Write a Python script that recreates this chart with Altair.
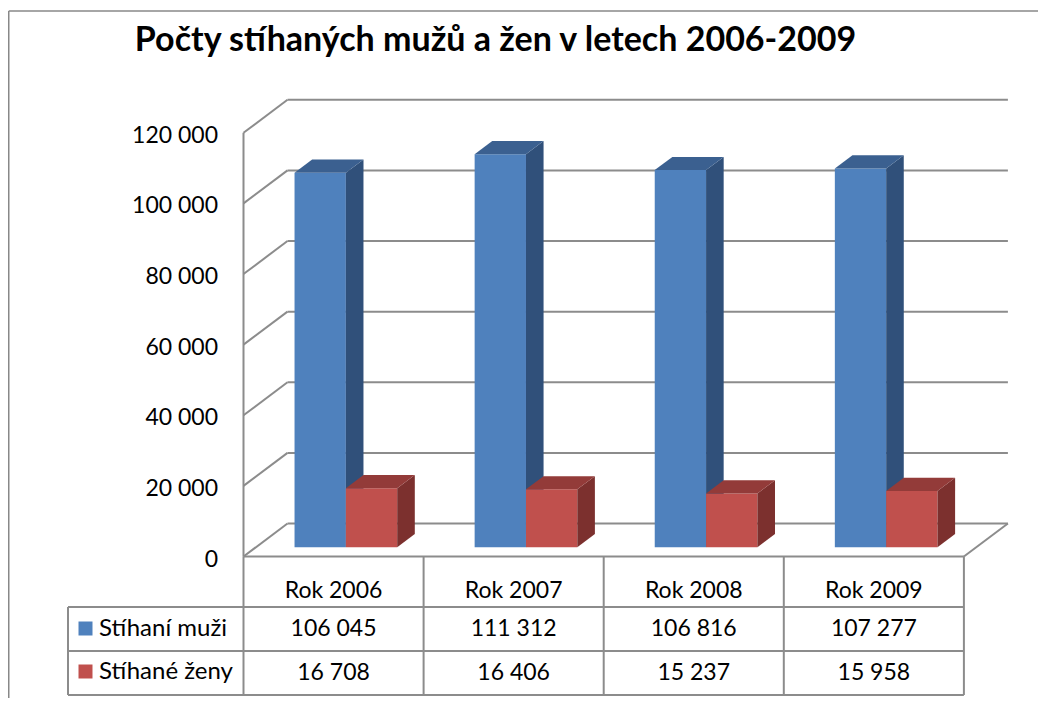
import altair as alt
import pandas as pd

# ---------------- data ----------------
years = ["Rok 2006", "Rok 2007", "Rok 2008", "Rok 2009"]
muzi = [106045, 111312, 106816, 107277]
zeny = [16708, 16406, 15237, 15958]
series_names = ["Stíhaní muži", "Stíhané ženy"]
y_ticks = [0, 20000, 40000, 60000, 80000, 100000, 120000]
title_text = "Počty stíhaných mužů a žen v letech 2006-2009"

# ---------------- layout constants ----------------
W, H = 1030, 690            # view size (page origin at 8,8)
X0_PAGE, Y0_PAGE = 243.5, 556.5   # front-left floor corner (page px)
CAT_PX = 180.1              # px per category
PX_PER_VAL = 0.003531       # px per value unit
DX_PX, DY_PX = 44.0, 33.0   # 3D depth offset in px

def u_of(page_x):
    return (page_x - X0_PAGE) / CAT_PX

def v_of(page_y):
    return (Y0_PAGE - page_y) / PX_PER_VAL

DX = DX_PX / CAT_PX
DY = DY_PX / PX_PER_VAL
x_dom = [u_of(8), u_of(8 + W)]
y_dom = [v_of(8 + H), v_of(8)]
xs = alt.Scale(domain=x_dom, nice=False, zero=False)
ys = alt.Scale(domain=y_dom, nice=False, zero=False)

def vy(page_y):  # view pixel y from page y
    return page_y - 8

GRID = "#8C8C8C"
FONT = "Lato"
FS = 23
n = len(years)
ymax = y_ticks[-1]

# ---------------- grid / walls ----------------
back = pd.DataFrame({"x": [DX] * len(y_ticks), "x2": [n + DX] * len(y_ticks),
                     "y": [t + DY for t in y_ticks]})
back_rules = alt.Chart(back).mark_rule(color=GRID, strokeWidth=2).encode(
    x=alt.X("x:Q", scale=xs, axis=None), x2="x2:Q",
    y=alt.Y("y:Q", scale=ys, axis=None))

diag = pd.DataFrame({"x": [0.0] * len(y_ticks), "x2": [DX] * len(y_ticks),
                     "y": y_ticks, "y2": [t + DY for t in y_ticks]})
diag_rules = alt.Chart(diag).mark_rule(color=GRID, strokeWidth=2).encode(
    x=alt.X("x:Q", scale=xs, axis=None), x2="x2:Q",
    y=alt.Y("y:Q", scale=ys, axis=None), y2="y2:Q")

floor_r = pd.DataFrame({"x": [float(n)], "x2": [n + DX], "y": [0.0], "y2": [DY]})
floor_rule = alt.Chart(floor_r).mark_rule(color=GRID, strokeWidth=2).encode(
    x=alt.X("x:Q", scale=xs, axis=None), x2="x2:Q",
    y=alt.Y("y:Q", scale=ys, axis=None), y2="y2:Q")

axis_v = pd.DataFrame({"x": [0.0], "y": [0.0], "y2": [float(ymax)]})
axis_rule = alt.Chart(axis_v).mark_rule(color=GRID, strokeWidth=2).encode(
    x=alt.X("x:Q", scale=xs, axis=None),
    y=alt.Y("y:Q", scale=ys, axis=None), y2="y2:Q")

tick_df = pd.DataFrame({"x": [u_of(218)] * len(y_ticks), "y": y_ticks,
                        "label": [f"{t:,}".replace(",", " ") for t in y_ticks]})
tick_text = alt.Chart(tick_df).mark_text(align="right", baseline="middle", dy=3,
                                         font=FONT, fontSize=FS, color="black").encode(
    x=alt.X("x:Q", scale=xs, axis=None), y=alt.Y("y:Q", scale=ys, axis=None),
    text="label:N")

# ---------------- 3D bars ----------------
ZF, DZ = 0.28, 0.40
BW = 0.285
START = 0.215
colors = [
    {"front": "#4F81BD", "side": "#30507A", "top": "#3B6090"},
    {"front": "#C0504D", "side": "#7C302E", "top": "#933B39"},
]

bar_layers = []
for s, vals in enumerate([muzi, zeny]):
    fr, sd, tp = [], [], []
    for i, val in enumerate(vals):
        xl = i + START + s * BW + ZF * DX
        xr = xl + BW
        b = ZF * DY
        t = val + ZF * DY
        fr.append({"x": xl, "x2": xr, "y": b, "y2": t})
        key = f"{s}-{i}"
        sd.append({"k": key, "x": xr, "y": b, "y2": t})
        sd.append({"k": key, "x": xr + DZ * DX, "y": b + DZ * DY, "y2": t + DZ * DY})
        tp.append({"k": key, "y": t, "x": xl, "x2": xr})
        tp.append({"k": key, "y": t + DZ * DY, "x": xl + DZ * DX, "x2": xr + DZ * DX})
    front = alt.Chart(pd.DataFrame(fr)).mark_rect(color=colors[s]["front"]).encode(
        x=alt.X("x:Q", scale=xs, axis=None), x2="x2:Q",
        y=alt.Y("y:Q", scale=ys, axis=None), y2="y2:Q")
    side = alt.Chart(pd.DataFrame(sd)).mark_area(color=colors[s]["side"], orient="vertical",
                                                 opacity=1).encode(
        x=alt.X("x:Q", scale=xs, axis=None),
        y=alt.Y("y:Q", scale=ys, axis=None), y2="y2:Q", detail="k:N")
    top = alt.Chart(pd.DataFrame(tp)).mark_area(color=colors[s]["top"], orient="horizontal",
                                                opacity=1).encode(
        y=alt.Y("y:Q", scale=ys, axis=None),
        x=alt.X("x:Q", scale=xs, axis=None), x2="x2:Q", detail="k:N")
    bar_layers += [front, side, top]

# ---------------- data table ----------------
ROW_TOP, ROW1, ROW2, ROW3 = 556.5, 607, 651, 695
LEFT_U = u_of(68)

vlines = pd.DataFrame({"x": list(range(n + 1))})
table_v = alt.Chart(vlines).mark_rule(color=GRID, strokeWidth=2).encode(
    x=alt.X("x:Q", scale=xs, axis=None),
    y=alt.value(vy(ROW_TOP)), y2=alt.value(vy(ROW3)))
left_v = alt.Chart(pd.DataFrame({"x": [LEFT_U]})).mark_rule(color=GRID, strokeWidth=2).encode(
    x=alt.X("x:Q", scale=xs, axis=None),
    y=alt.value(vy(ROW1)), y2=alt.value(vy(ROW3)))

h_top = alt.Chart(pd.DataFrame({"x": [0.0], "x2": [float(n)]})).mark_rule(
    color=GRID, strokeWidth=2).encode(
    x=alt.X("x:Q", scale=xs, axis=None), x2="x2:Q", y=alt.value(vy(ROW_TOP)))
h_rows = []
for py in (ROW1, ROW2, ROW3):
    h_rows.append(alt.Chart(pd.DataFrame({"x": [LEFT_U], "x2": [float(n)]})).mark_rule(
        color=GRID, strokeWidth=2).encode(
        x=alt.X("x:Q", scale=xs, axis=None), x2="x2:Q", y=alt.value(vy(py))))

hdr = pd.DataFrame({"x": [i + 0.5 for i in range(n)], "label": years})
hdr_text = alt.Chart(hdr).mark_text(font=FONT, fontSize=FS, color="black",
                                    baseline="middle").encode(
    x=alt.X("x:Q", scale=xs, axis=None), y=alt.value(vy(591)), text="label:N")

row_texts = []
for vals, py in ((muzi, 628.5), (zeny, 672.5)):
    d = pd.DataFrame({"x": [i + 0.5 for i in range(n)],
                      "label": [f"{v:,}".replace(",", " ") for v in vals]})
    row_texts.append(alt.Chart(d).mark_text(font=FONT, fontSize=FS, color="black",
                                            baseline="middle").encode(
        x=alt.X("x:Q", scale=xs, axis=None), y=alt.value(vy(py)), text="label:N"))

leg_layers = []
for s, py in ((0, 628.5), (1, 671.5)):
    leg_layers.append(alt.Chart(pd.DataFrame({"x": [u_of(85.5)]})).mark_square(
        size=196, color=colors[s]["front"], opacity=1).encode(
        x=alt.X("x:Q", scale=xs, axis=None), y=alt.value(vy(py))))
    leg_layers.append(alt.Chart(pd.DataFrame({"x": [u_of(99)], "label": [series_names[s]]})).mark_text(
        font=FONT, fontSize=FS + 1, color="black", align="left", baseline="middle").encode(
        x=alt.X("x:Q", scale=xs, axis=None), y=alt.value(vy(py)), text="label:N"))

# ---------------- title & border ----------------
title = alt.Chart(pd.DataFrame({"t": [title_text]})).mark_text(
    font=FONT, fontSize=34, fontWeight="bold", color="black", baseline="alphabetic").encode(
    x=alt.value(487.5), y=alt.value(43), text="t:N")

border_top = alt.Chart(pd.DataFrame({"a": [0]})).mark_rule(color="#888888", strokeWidth=1.5).encode(
    x=alt.value(0.75), x2=alt.value(W), y=alt.value(3))
border_left = alt.Chart(pd.DataFrame({"a": [0]})).mark_rule(color="#888888", strokeWidth=1.5).encode(
    x=alt.value(0.75), y=alt.value(3), y2=alt.value(H))

chart = alt.layer(
    border_top, border_left, title,
    back_rules, diag_rules, floor_rule, axis_rule, tick_text,
    *bar_layers,
    table_v, left_v, h_top, *h_rows, hdr_text, *row_texts, *leg_layers,
).properties(
    width=W, height=H, autosize=alt.AutoSizeParams(type="none"), padding=0,
    background="white",
).configure_view(stroke=None)

chart.save("out.html", embed_options={"renderer": "svg", "actions": False})
